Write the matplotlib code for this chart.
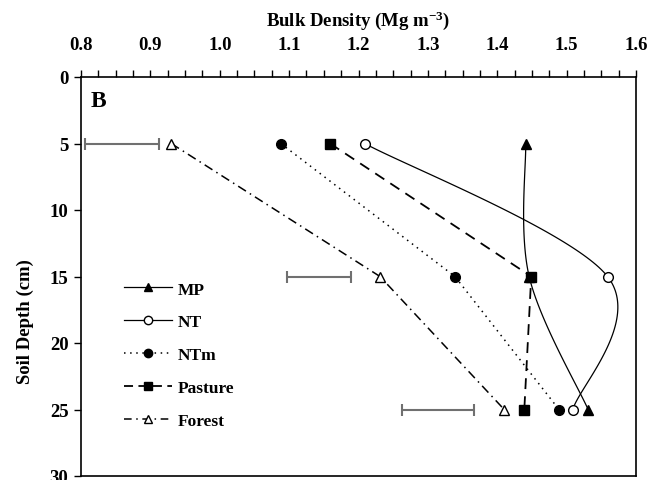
import numpy as np
import matplotlib
matplotlib.use("Agg")
import matplotlib.pyplot as plt
from matplotlib.ticker import MultipleLocator, FormatStrFormatter

# bulk density (Mg m-3) at each sampling depth (cm)
depth = [5, 15, 25]
mp = [1.441, 1.446, 1.531]
nt = [1.209, 1.559, 1.509]
ntm = [1.088, 1.339, 1.489]
pasture = [1.159, 1.449, 1.439]
forest = [0.930, 1.231, 1.410]

# LSD bars drawn beside the curves
lsd_depth = [5, 15, 25]
lsd_center = [0.859, 1.143, 1.314]
lsd_half = [0.053, 0.046, 0.052]

plt.rcParams['font.family'] = ['Liberation Serif', 'DejaVu Serif']
plt.rcParams['font.weight'] = 'bold'
plt.rcParams['mathtext.fontset'] = 'custom'
plt.rcParams['mathtext.rm'] = 'Liberation Serif:bold'
plt.rcParams['mathtext.bf'] = 'Liberation Serif:bold'
plt.rcParams['mathtext.default'] = 'rm'

fig = plt.figure(figsize=(6.58, 4.81), dpi=100)
ax = fig.add_axes([81/658, 4/481, 555/658, 399/481])

xmin, xmax, ymin, ymax = 0.8, 1.6, 0, 30
sx = 555 / (xmax - xmin)
sy = 399 / (ymax - ymin)


#excel style smoothed line (bezier through the points)
def smooth(x, y, n=60):
    p = np.column_stack([(np.array(x) - xmin) * sx, np.array(y) * sy])
    pts = np.vstack([p[0], p, p[-1]])
    out = []
    for i in range(1, len(pts) - 2):
        p0, p1, p2, p3 = pts[i-1], pts[i], pts[i+1], pts[i+2]
        c1 = p1 + (p2 - p0) / 6
        c2 = p2 - (p3 - p1) / 6
        t = np.linspace(0, 1, n)[:, None]
        seg = (1-t)**3*p1 + 3*(1-t)**2*t*c1 + 3*(1-t)*t**2*c2 + t**3*p2
        out.append(seg)
    out = np.vstack(out)
    return out[:, 0] / sx + xmin, out[:, 1] / sy


lw = 0.9
ms = 7
bx, by = smooth(mp, depth)
ax.plot(bx, by, color='black', lw=lw, zorder=2)
bx, by = smooth(nt, depth)
ax.plot(bx, by, color='black', lw=lw, zorder=2)
ax.plot(ntm, depth, color='black', lw=1.1, ls=(0, (1, 3)), zorder=2)
ax.plot(pasture, depth, color='black', lw=1.3, ls=(0, (6, 4)), zorder=2)
ax.plot(forest, depth, color='black', lw=1.1, ls=(0, (6, 3, 1, 3)), zorder=2)

ax.plot(mp, depth, ls='none', marker='^', ms=ms, mfc='black', mec='black', zorder=3)
ax.plot(nt, depth, ls='none', marker='o', ms=ms, mfc='white', mec='black', mew=1, zorder=3)
ax.plot(ntm, depth, ls='none', marker='o', ms=ms, mfc='black', mec='black', zorder=3)
ax.plot(pasture, depth, ls='none', marker='s', ms=ms, mfc='black', mec='black', zorder=4)
ax.plot(forest, depth, ls='none', marker='^', ms=ms, mfc='white', mec='black', mew=1, zorder=3)

ax.errorbar(lsd_center, lsd_depth, xerr=lsd_half, fmt='none', ecolor='#707070',
            elinewidth=1.5, capsize=4.5, capthick=1.5, zorder=2)

# legend entries
handles = [
    plt.Line2D([], [], color='black', lw=lw, marker='^', ms=6, mfc='black'),
    plt.Line2D([], [], color='black', lw=lw, marker='o', ms=6, mfc='white'),
    plt.Line2D([], [], color='black', lw=1.1, ls=(0, (1, 3)), marker='o', ms=6, mfc='black'),
    plt.Line2D([], [], color='black', lw=1.3, ls=(0, (5, 3)), marker='s', ms=6, mfc='black'),
    plt.Line2D([], [], color='black', lw=1.1, ls=(0, (5, 3, 1, 3)), marker='^', ms=6, mfc='white'),
]
labels = ['MP', 'NT', 'NTm', 'Pasture', 'Forest']
ax.legend(handles, labels, loc='upper left', bbox_to_anchor=(0.05, 0.527), frameon=False,
          handlelength=2.75, handletextpad=0.35, labelspacing=0.96, prop={'size': 12.5, 'weight': 'bold'})

ax.set_xlim(xmin, xmax)
ax.set_ylim(ymax, ymin)
ax.xaxis.tick_top()
ax.xaxis.set_label_position('top')
ax.xaxis.set_major_locator(MultipleLocator(0.1))
ax.xaxis.set_minor_locator(MultipleLocator(0.025))
ax.xaxis.set_major_formatter(FormatStrFormatter('%.1f'))
ax.yaxis.set_major_locator(MultipleLocator(5))
ax.tick_params(axis='x', which='major', direction='out', length=5, width=1, labelsize=13.5, pad=12)
ax.tick_params(axis='x', which='minor', direction='out', length=5, width=1)
ax.tick_params(axis='y', which='major', direction='out', length=5, width=1, labelsize=13.5, pad=4)
for s in ax.spines.values():
    s.set_linewidth(1.2)

ax.set_xlabel('Bulk Density (Mg m$^{-3}$)', fontsize=13.5, fontweight='bold', labelpad=8)
ax.set_ylabel('Soil Depth (cm)', fontsize=13.5, fontweight='bold')
ax.yaxis.set_label_coords(-0.085, 0.39)
ax.text(0.017, 0.94, 'B', transform=ax.transAxes, fontsize=17, fontweight='bold', va='center')

fig.savefig('out.png', dpi=100)
